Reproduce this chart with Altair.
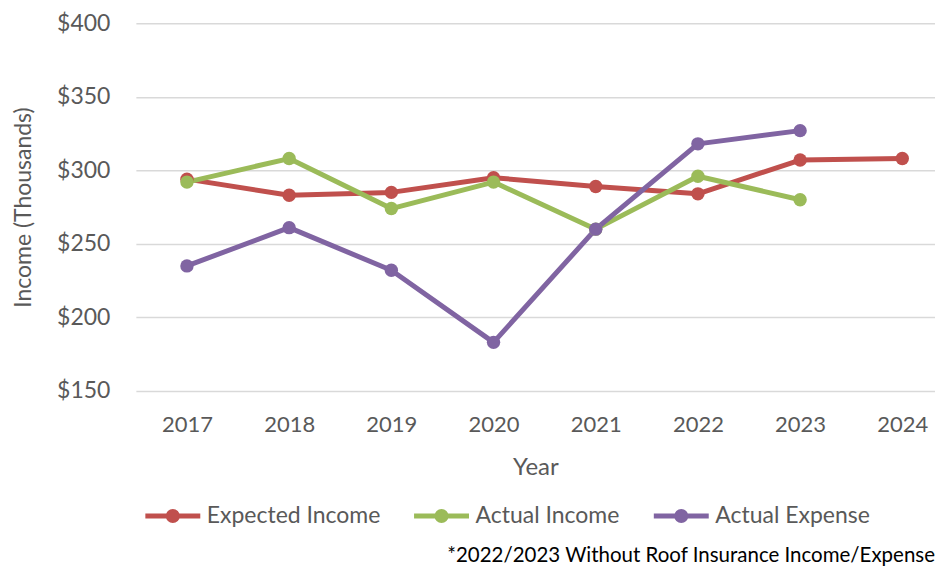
import altair as alt
import pandas as pd

years = [2017, 2018, 2019, 2020, 2021, 2022, 2023, 2024]
expected_income = [294, 283, 285, 295, 289, 284, 307, 308]
actual_income = [292, 308, 274, 292, 260, 296, 280]
actual_expense = [235, 261, 232, 183, 260, 318, 327]
series_names = ["Expected Income", "Actual Income", "Actual Expense"]
series_colors = ["#C0504D", "#9BBB59", "#8064A2"]
y_ticks = [150, 200, 250, 300, 350, 400]
footnote = "*2022/2023 Without Roof Insurance Income/Expense"

rows = []
for name, vals in zip(series_names, [expected_income, actual_income, actual_expense]):
    for yr, v in zip(years, vals):
        rows.append({"Year": yr, "Value": v, "Series": name})
df = pd.DataFrame(rows)

FONT = "Lato"
GRAY = "#595959"

legend_symbol = ("M-1,0H1"
                 "M-0.164,0A0.164,0.164 0 1,0 0.164,0A0.164,0.164 0 1,0 -0.164,0"
                 "M-0.073,0A0.073,0.073 0 1,0 0.073,0A0.073,0.073 0 1,0 -0.073,0")

x = alt.X("Year:Q",
          scale=alt.Scale(domain=[2016.5, 2024.32], nice=False, zero=False),
          axis=alt.Axis(values=years, format="d", grid=False, domain=False, ticks=False,
                        labelFontSize=22, labelColor=GRAY, labelFont=FONT, labelPadding=24,
                        title="Year", titleFontSize=24, titleColor=GRAY, titleFont=FONT,
                        titleFontWeight="normal", titlePadding=20, labelFlush=False))
y = alt.Y("Value:Q",
          scale=alt.Scale(domain=[150, 400], nice=False, zero=False),
          axis=alt.Axis(values=y_ticks, format="$d", domain=False, ticks=False,
                        gridColor="#D9D9D9", gridWidth=1.5,
                        labelFontSize=23, labelColor=GRAY, labelFont=FONT, labelPadding=26,
                        title="Income (Thousands)", titleFontSize=23, titleColor=GRAY,
                        titleFont=FONT, titleFontWeight="normal", titlePadding=21))
color = alt.Color("Series:N",
                  scale=alt.Scale(domain=series_names, range=series_colors),
                  sort=series_names,
                  legend=alt.Legend(title=None, orient="none", direction="horizontal",
                                    legendX=7, legendY=463,
                                    symbolType=legend_symbol, symbolSize=3025,
                                    symbolStrokeWidth=5, labelFontSize=23, labelLimit=400,
                                    labelColor=GRAY, labelFont=FONT, labelOffset=4,
                                    columnPadding=23))

base = alt.Chart(df).encode(x=x, y=y, color=color, order="Year:Q")
lines = base.mark_line(strokeWidth=5, strokeJoin="round", strokeCap="round")
points = base.mark_circle(size=180, opacity=1)

chart = (lines + points).properties(
    width=800, height=368,
    padding={"left": 4, "top": 4, "right": 0, "bottom": 2},
    title=alt.Title(footnote, orient="bottom", anchor="end", fontSize=20.5,
                    font=FONT, color="#000000", fontWeight="normal", offset=15),
).configure(background="white").configure_view(stroke=None)

chart.save("out.html", embed_options={"renderer": "svg", "actions": False})
